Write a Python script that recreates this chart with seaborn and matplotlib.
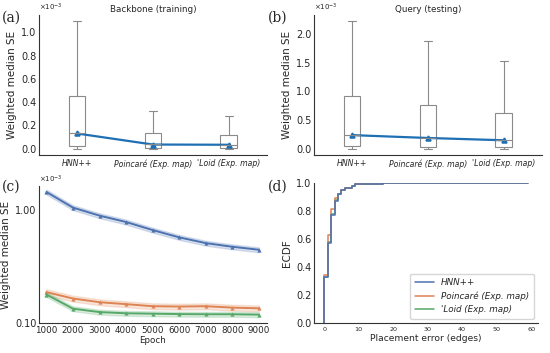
import numpy as np
import pandas as pd
import matplotlib
matplotlib.use("Agg")
import matplotlib.pyplot as plt
from matplotlib.ticker import FormatStrFormatter, FixedLocator, NullLocator
import seaborn as sns

# ---------------- data (SE values in units of 1e-3) ----------------
methods = ["HNN++", "Poincaré (Exp. map)", "'Loid (Exp. map)"]

# box stats: [min, q1, median, q3, max]
train_box = {
    "HNN++": [0.0, 0.026, 0.136, 0.452, 1.096],
    "Poincaré (Exp. map)": [0.0, 0.006, 0.038, 0.130, 0.325],
    "'Loid (Exp. map)": [0.0, 0.004, 0.035, 0.116, 0.284],
}
train_line = [0.130, 0.035, 0.033]

test_box = {
    "HNN++": [0.0, 0.04, 0.235, 0.91, 2.22],
    "Poincaré (Exp. map)": [0.0, 0.02, 0.18, 0.765, 1.88],
    "'Loid (Exp. map)": [0.0, 0.02, 0.15, 0.62, 1.535],
}
test_line = [0.235, 0.185, 0.145]

epochs = [1000, 2000, 3000, 4000, 5000, 6000, 7000, 8000, 9000]
epoch_hnn = [1.46, 1.06, 0.90, 0.79, 0.67, 0.577, 0.513, 0.476, 0.448]
epoch_poinc = [0.188, 0.165, 0.153, 0.147, 0.141, 0.140, 0.141, 0.137, 0.135]
epoch_loid = [0.179, 0.134, 0.125, 0.122, 0.121, 0.120, 0.1196, 0.1196, 0.1187]
band_rel = [0.05, 0.06, 0.05]  # relative half-width of shaded bands

err_values = [0, 1, 2, 3, 4, 5, 6, 7, 8, 9, 12, 17, 25, 59]
err_w_hnn = [0.33, 0.24, 0.20, 0.10, 0.05, 0.03, 0.01, 0.005, 0.01, 0.015, 0.003, 0.003, 0.003, 0.001]
err_w_poinc = [0.34, 0.29, 0.18, 0.08, 0.03, 0.03, 0.01, 0.005, 0.01, 0.015, 0.003, 0.003, 0.003, 0.001]
err_w_loid = [0.33, 0.25, 0.20, 0.10, 0.04, 0.03, 0.01, 0.005, 0.01, 0.015, 0.003, 0.003, 0.003, 0.001]

# ---------------- style ----------------
sns.set_theme(style="white")
plt.rcParams["font.family"] = ["DejaVu Sans"]
plt.rcParams["axes.linewidth"] = 0.8
plt.rcParams["axes.edgecolor"] = "#333333"
YT = 7      # y tick labels
YL = 7.5    # y axis labels
pal = sns.color_palette("deep")
line_blue = "#1f6fb4"

fig = plt.figure(figsize=(5.5, 3.53), dpi=100)
axA = fig.add_axes([0.071, 0.561, 0.414, 0.397])
axB = fig.add_axes([0.571, 0.561, 0.414, 0.397])
axC = fig.add_axes([0.071, 0.085, 0.414, 0.388])
axD = fig.add_axes([0.571, 0.085, 0.407, 0.397])


def box_panel(ax, box, line, title):
    df = pd.DataFrame([(m, v) for m in methods for v in box[m]], columns=["method", "se"])
    sns.boxplot(data=df, x="method", y="se", order=methods, whis=(0, 100), width=0.22,
                color="white", linecolor="#8a8a8a", linewidth=0.8, showfliers=False, ax=ax)
    sns.pointplot(x=methods, y=line, order=methods, color=line_blue, markers="^",
                  markersize=3.5, linewidth=1.6, errorbar=None, ax=ax)
    ax.set_xlabel("")
    ax.set_ylabel("Weighted median SE", fontsize=YL, labelpad=3)
    ax.set_title(title, fontsize=6.3, pad=2)
    ax.yaxis.set_major_formatter(FormatStrFormatter("%.1f"))
    ax.tick_params(axis="y", labelsize=YT, length=0, pad=2)
    ax.tick_params(axis="x", labelsize=5.6, length=0, pad=3)
    for lab in ax.get_xticklabels():
        lab.set_fontstyle("italic")
    ax.set_xlim(-0.5, 2.5)
    ax.text(0.0, 1.01, r"$\times10^{-3}$", transform=ax.transAxes, ha="left", va="bottom", fontsize=5)
    sns.despine(ax=ax)


box_panel(axA, train_box, train_line, "Backbone (training)")
box_panel(axB, test_box, test_line, "Query (testing)")

# ---------------- panel (c) ----------------
rows = []
for name, vals, rel in zip(methods, [epoch_hnn, epoch_poinc, epoch_loid], band_rel):
    for e, v in zip(epochs, vals):
        for f in (1 - rel, 1.0, 1 + rel):
            rows.append((e, v * f, name))
dfc = pd.DataFrame(rows, columns=["epoch", "se", "method"])
sns.lineplot(data=dfc, x="epoch", y="se", hue="method", hue_order=methods, palette=pal[:3],
             estimator="median", errorbar=("pi", 100), marker="^", markersize=3,
             markeredgewidth=0, linewidth=1.4, legend=False, ax=axC)
axC.set_yscale("log")
axC.set_ylim(0.1, 1.65)
axC.set_xlim(720, 9300)
axC.yaxis.set_major_locator(FixedLocator([0.1, 1.0]))
axC.yaxis.set_minor_locator(NullLocator())
axC.yaxis.set_major_formatter(FormatStrFormatter("%.2f"))
axC.set_xticks(epochs)
axC.set_xlabel("Epoch", fontsize=6.3, labelpad=1)
axC.set_ylabel("Weighted median SE", fontsize=YL, labelpad=3)
axC.tick_params(axis="y", labelsize=YT, length=0, pad=2)
axC.tick_params(axis="x", labelsize=6.3, length=0, pad=2)
axC.text(0.0, 1.01, r"$\times10^{-3}$", transform=axC.transAxes, ha="left", va="bottom", fontsize=5)
sns.despine(ax=axC)

# ---------------- panel (d) ----------------
rows = []
for name, w in zip(methods, [err_w_hnn, err_w_poinc, err_w_loid]):
    for v, wt in zip(err_values, w):
        rows.append((v, wt, name))
dfd = pd.DataFrame(rows, columns=["err", "w", "method"])
sns.ecdfplot(data=dfd, x="err", weights="w", hue="method", hue_order=methods,
             palette=pal[:3], linewidth=1.1, ax=axD)
axD.set_xlabel("Placement error (edges)", fontsize=6.6, labelpad=1)
axD.set_ylabel("ECDF", fontsize=YL, labelpad=3)
axD.tick_params(axis="x", labelsize=4.6, length=0, pad=3)
axD.tick_params(axis="y", labelsize=YT, length=0, pad=2)
sns.move_legend(axD, "lower right", title=None, frameon=True,
                prop={"style": "italic", "size": 6.3}, borderpad=0.5, handlelength=2.2)
sns.despine(ax=axD)

# ---------------- panel labels ----------------
for x, y, s in [(0.003, 0.95, "(a)"), (0.487, 0.95, "(b)"), (0.003, 0.47, "(c)"), (0.487, 0.47, "(d)")]:
    fig.text(x, y, s, fontsize=10, family="DejaVu Serif", va="center", ha="left")

fig.savefig("out.png", dpi=100)
